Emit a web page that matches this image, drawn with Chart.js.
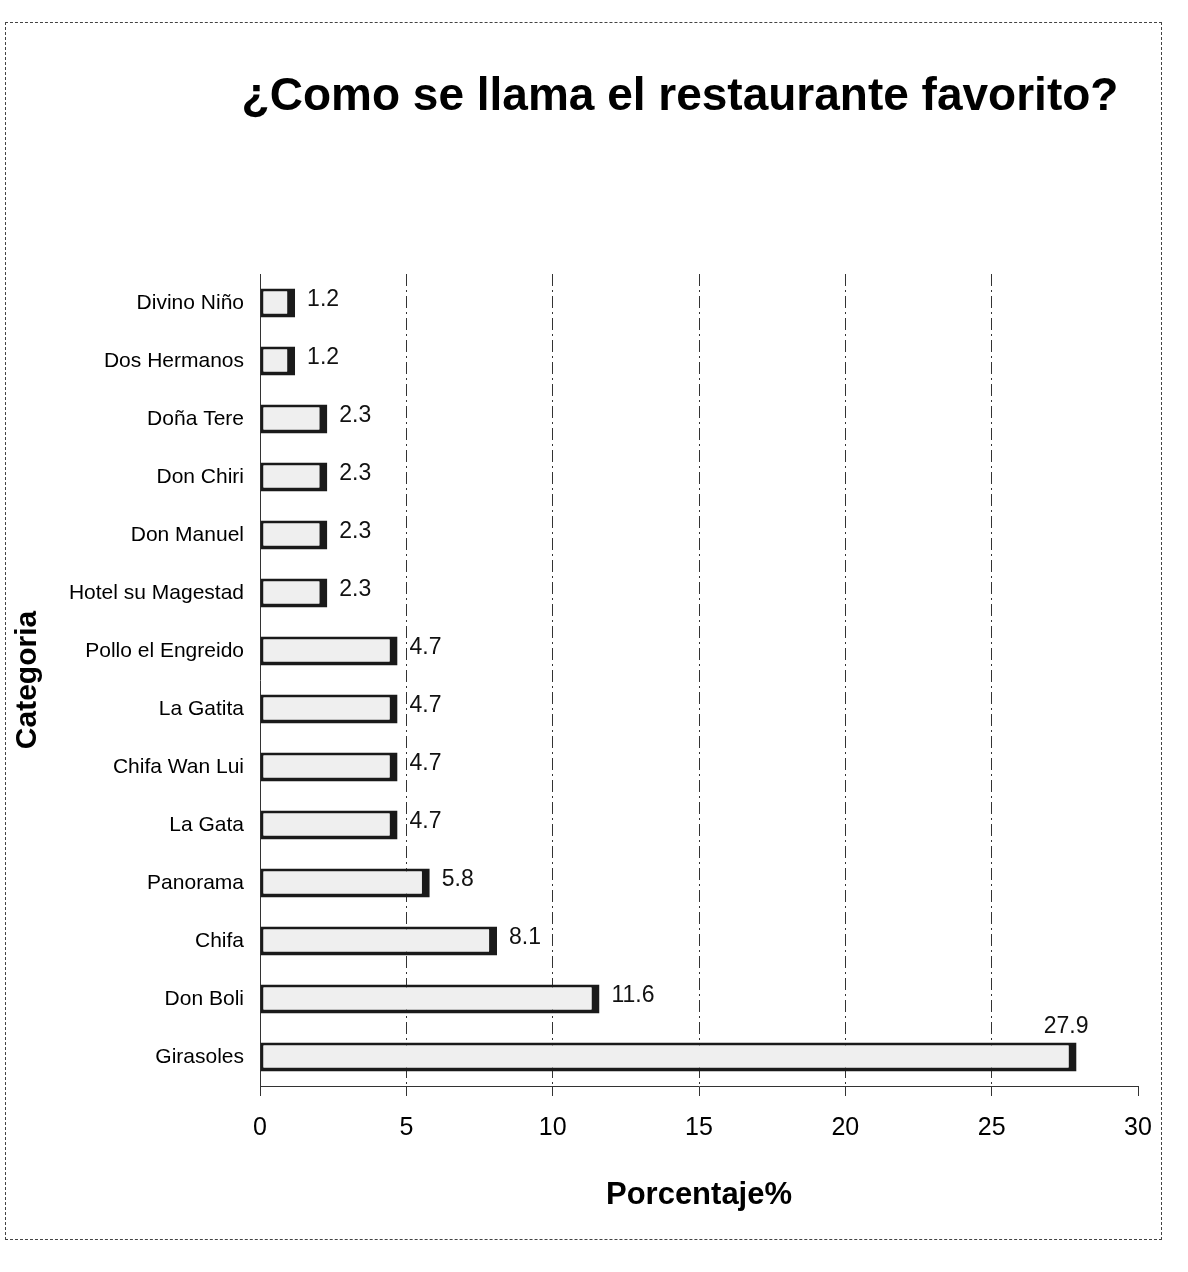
<!DOCTYPE html>
<html>
<head>
<meta charset="utf-8">
<script src="https://cdn.jsdelivr.net/npm/chart.js@4.4.0/dist/chart.umd.min.js"></script>
<style>
  html, body { margin: 0; padding: 0; background: #fff; }
  .wrap { position: relative; width: 1188px; height: 1272px; }
  .frame {
    position: absolute; left: 5px; top: 22px; width: 1155px; height: 1216px;
    border: 1px dashed #444; pointer-events: none;
  }
  canvas { position: absolute; left: 0; top: 0; }
</style>
</head>
<body>
<div class="wrap">
  <div class="frame"></div>
  <canvas id="barchart" width="1188" height="1272"></canvas>
</div>
<script>
// Data
const categories = ['Divino Niño', 'Dos Hermanos', 'Doña Tere', 'Don Chiri', 'Don Manuel',
  'Hotel su Magestad', 'Pollo el Engreido', 'La Gatita', 'Chifa Wan Lui', 'La Gata',
  'Panorama', 'Chifa', 'Don Boli', 'Girasoles'];
const porcentaje = [1.2, 1.2, 2.3, 2.3, 2.3, 2.3, 4.7, 4.7, 4.7, 4.7, 5.8, 8.1, 11.6, 27.9];
const xTicks = [0, 5, 10, 15, 20, 25, 30];
const chartTitle = '¿Como se llama el restaurante favorito?';

const FONT = "'Liberation Sans', Arial, sans-serif";

// value labels at the end of each bar
const valueLabels = {
    id: 'valueLabels',
    afterDatasetsDraw(chart) {
        const ctx = chart.ctx;
        const meta = chart.getDatasetMeta(0);
        const area = chart.chartArea;
        ctx.save();
        ctx.font = '23px ' + FONT;
        ctx.fillStyle = '#111';
        ctx.textBaseline = 'middle';
        meta.data.forEach(function (bar, i) {
            const txt = String(porcentaje[i]);
            const w = ctx.measureText(txt).width;
            let x = bar.x + 12;
            let y = bar.y - 3;
            ctx.textAlign = 'left';
            if (x + w > area.right - 10) {
                // no room on the right, put it above the bar end
                x = bar.x + 12;
                y = bar.y - 30;
                ctx.textAlign = 'right';
            }
            ctx.fillText(txt, x, y);
        });
        ctx.restore();
    }
};

// big title, drawn off-centre like the original
const bigTitle = {
    id: 'bigTitle',
    afterDraw(chart) {
        const ctx = chart.ctx;
        ctx.save();
        ctx.font = 'bold 46px ' + FONT;
        ctx.fillStyle = '#000';
        ctx.textAlign = 'center';
        ctx.textBaseline = 'middle';
        ctx.fillText(chartTitle, 680, 97);
        ctx.restore();
    }
};

const ctxBar = document.getElementById('barchart');

new Chart(ctxBar, {
    type: 'bar',
    data: {
        labels: categories,
        datasets: [{
            label: 'Porcentaje%',
            data: porcentaje,
            backgroundColor: '#efefef',
            borderColor: '#1a1a1a',
            borderWidth: { top: 3, left: 3, bottom: 4, right: 8 },
            borderSkipped: false,
            barPercentage: 0.5,
            categoryPercentage: 1
        }]
    },
    options: {
        indexAxis: 'y',
        responsive: false,
        animation: false,
        layout: {
            padding: { left: 8, right: 50, top: 274, bottom: 40 }
        },
        plugins: {
            legend: { display: false },
            tooltip: { enabled: false },
            title: { display: false }
        },
        scales: {
            x: {
                min: 0,
                max: 30,
                afterBuildTicks: function (scale) {
                    scale.ticks = xTicks.map(v => ({ value: v }));
                },
                afterFit: function (scale) { scale.height = 146; },
                ticks: {
                    color: '#000',
                    padding: 17,
                    font: { family: FONT, size: 25 }
                },
                grid: {
                    color: function (c) {
                        return (c.tick && (c.tick.value === 0 || c.tick.value === 30)) ? 'rgba(0,0,0,0)' : '#333';
                    },
                    lineWidth: 1,
                    tickLength: 10,
                    tickColor: '#333'
                },
                border: { display: true, color: '#333', width: 1, dash: [12, 4, 2, 4] },
                title: {
                    display: true,
                    text: 'Porcentaje%',
                    color: '#000',
                    font: { family: FONT, size: 31, weight: 'bold' },
                    padding: { top: 18, bottom: 18 }
                }
            },
            y: {
                afterFit: function (scale) { scale.width = 252; },
                ticks: {
                    color: '#000',
                    padding: 16,
                    font: { family: FONT, size: 21 }
                },
                grid: { display: false, drawTicks: false },
                border: { display: true, color: '#333', width: 1 },
                title: {
                    display: true,
                    text: 'Categoria',
                    color: '#000',
                    font: { family: FONT, size: 30, weight: 'bold' },
                    padding: { top: 2, bottom: 0 }
                }
            }
        }
    },
    plugins: [valueLabels, bigTitle]
});
</script>
</body>
</html>
